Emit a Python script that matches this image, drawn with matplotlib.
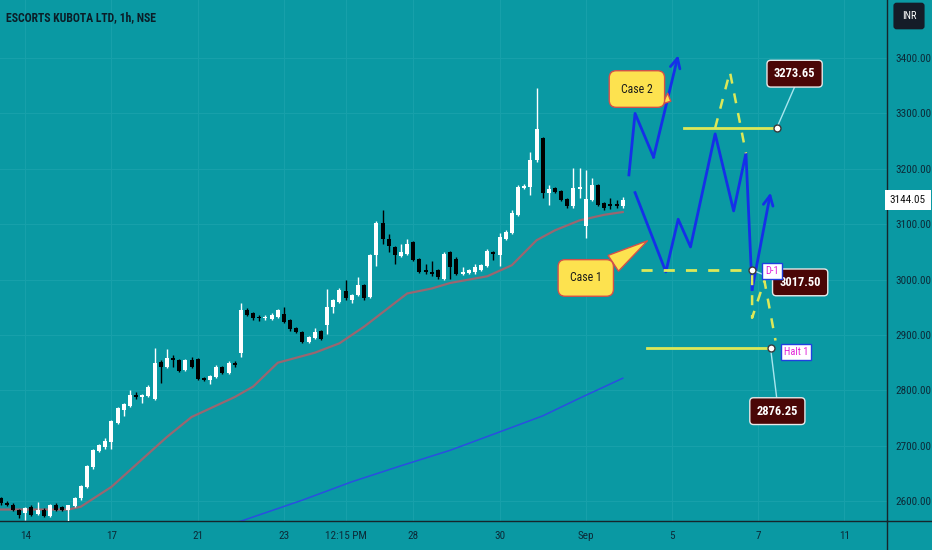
import numpy as np
import matplotlib.pyplot as plt
from matplotlib.lines import Line2D
from matplotlib.transforms import blended_transform_factory

# hourly bars, index 0 = 14 Aug 9:15
bar_idx = list(range(-4, 98))
opens = [2605, 2597, 2594, 2584, 2578, 2589, 2577, 2585, 2573, 2593, 2590, 2584,
         2591, 2605, 2626, 2661, 2691, 2697, 2706, 2742, 2765, 2772, 2791, 2789,
         2790, 2784, 2852, 2842, 2859, 2855, 2837, 2855, 2856, 2822, 2818, 2825,
         2842, 2831, 2849, 2868, 2945, 2939, 2933, 2930, 2929, 2932, 2938, 2927,
         2912, 2906, 2888, 2894, 2907, 2918, 2950, 2960, 2980, 2964, 2972, 2990,
         2969, 3044, 3103, 3074, 3058, 3043, 3047, 3068, 3037, 3017, 3014, 3017,
         3002, 3050, 3038, 3010, 3012, 3013, 3018, 3025, 3050, 3044, 3074, 3084,
         3117, 3165, 3167, 3215, 3255, 3157, 3165, 3160, 3145, 3132, 3163, 3097,
         3143, 3171, 3138, 3136, 3136, 3132]
highs = [2608, 2600, 2596, 2586, 2589, 2593, 2599, 2587, 2595, 2596, 2592, 2594,
         2607, 2629, 2666, 2694, 2703, 2715, 2747, 2770, 2777, 2801, 2798, 2794,
         2809, 2876, 2855, 2874, 2864, 2857, 2857, 2860, 2858, 2824, 2828, 2845,
         2844, 2853, 2853, 2958, 2948, 2941, 2936, 2936, 2939, 2947, 2951, 2929,
         2914, 2908, 2899, 2912, 2909, 2983, 2965, 2984, 2999, 2974, 3004, 2992,
         3046, 3105, 3126, 3083, 3060, 3065, 3074, 3070, 3039, 3028, 3034, 3019,
         3049, 3052, 3040, 3023, 3019, 3029, 3028, 3056, 3052, 3084, 3090, 3126,
         3170, 3173, 3231, 3345, 3257, 3171, 3167, 3162, 3147, 3201, 3201, 3198,
         3183, 3173, 3140, 3148, 3144, 3150]
lows = [2594, 2591, 2582, 2569, 2566, 2573, 2575, 2572, 2571, 2583, 2582, 2564,
        2589, 2603, 2624, 2659, 2688, 2695, 2694, 2740, 2754, 2770, 2784, 2778,
        2788, 2782, 2813, 2840, 2842, 2833, 2835, 2840, 2818, 2817, 2812, 2823,
        2829, 2829, 2843, 2861, 2934, 2928, 2925, 2928, 2927, 2930, 2922, 2908,
        2904, 2885, 2886, 2892, 2891, 2902, 2940, 2958, 2963, 2957, 2970, 2964,
        2967, 3025, 3065, 3050, 3029, 3041, 3045, 3033, 3012, 3011, 3007, 3002,
        3000, 3002, 3008, 3008, 3010, 3011, 3016, 3023, 3035, 3025, 3072, 3082,
        3115, 3163, 3153, 3213, 3147, 3135, 3156, 3141, 3130, 3130, 3147, 3075,
        3141, 3133, 3125, 3127, 3129, 3130]
closes = [2596, 2593, 2584, 2575, 2587, 2576, 2585, 2574, 2593, 2585, 2584, 2593,
          2605, 2627, 2664, 2692, 2701, 2708, 2745, 2768, 2775, 2791, 2788, 2792,
          2807, 2850, 2843, 2858, 2855, 2835, 2855, 2842, 2820, 2819, 2826, 2843,
          2831, 2849, 2845, 2945, 2936, 2930, 2930, 2933, 2937, 2945, 2924, 2910,
          2906, 2888, 2897, 2906, 2893, 2951, 2963, 2981, 2966, 2972, 2990, 2966,
          3044, 3103, 3074, 3061, 3044, 3050, 3064, 3035, 3014, 3013, 3011, 3004,
          3047, 3022, 3010, 3014, 3017, 3022, 3026, 3051, 3046, 3077, 3086, 3120,
          3168, 3169, 3216, 3271, 3156, 3163, 3159, 3143, 3133, 3165, 3168, 3145,
          3171, 3135, 3129, 3132, 3132, 3144.05]

# moving averages (bar index, value)
ma_fast_x = [-4, 7, 9, 14, 19, 23, 27, 34, 37, 41, 45, 47, 51, 55, 62, 66, 69, 75, 79, 83, 86, 90, 94, 97]
ma_fast_y = [2585, 2585, 2590, 2626, 2676, 2716, 2752, 2788, 2807, 2850, 2862, 2868, 2885, 2915,
             2975, 2984, 2994, 3006, 3026, 3071, 3089, 3107, 3117, 3122]
ma_slow_x = [30, 35, 45, 53, 61, 69, 77, 84, 90, 97]
ma_slow_y = [2548, 2564, 2602, 2635, 2664, 2692, 2725, 2754, 2786, 2822]

# drawn projections
case2_x = [98, 99, 102, 106]
case2_y = [3189, 3300, 3221, 3405]
case1_x = [99, 104, 106, 108, 112, 115, 117, 118, 121]
case1_y = [3157, 3014, 3109, 3059, 3263, 3124, 3228, 2982, 3157]
tri_up_x = [112, 114.4, 117]
tri_up_y = [3273.65, 3375, 3228]
tri_dn_x = [118, 118, 120, 121.8]
tri_dn_y = [3008, 2931, 2998, 2890]

level_top = 3273.65
level_mid = 3017.50
level_low = 2876.25
last_price = 3144.05

tick_pos = [0, 14, 28, 42, 52, 63, 77, 91, 105, 119, 133]
tick_lab = ['14', '17', '21', '23', '12:15 PM', '28', '30', 'Sep', '5', '7', '11']

bg = '#0a99a3'
txt = '#0c2a38'
plt.rcParams['font.family'] = ['Roboto Condensed', 'Open Sans Condensed', 'Liberation Sans Narrow',
                               'Liberation Sans', 'DejaVu Sans']

fig = plt.figure(figsize=(9.32, 5.5), dpi=100)
fig.patch.set_facecolor(bg)
ax = fig.add_axes([0, 29/550, 887/932, 521/550])
ax.set_facecolor(bg)
ax.set_xlim(-4.1, 139.9)
ax.set_ylim(2564.3, 3504.7)

for s in ['top', 'left']:
    ax.spines[s].set_visible(False)
for s in ['right', 'bottom']:
    ax.spines[s].set_color('#16252b')
    ax.spines[s].set_linewidth(1)
fig.add_artist(Line2D([887/932, 887/932], [0, 29/550], transform=fig.transFigure, color='#16252b', lw=1))
fig.add_artist(Line2D([887/932, 1], [29/550, 29/550], transform=fig.transFigure, color='#16252b', lw=1))

ax.yaxis.tick_right()
ax.set_yticks(range(2600, 3401, 100))
ax.set_yticklabels([f'{v:.2f}' for v in range(2600, 3401, 100)])
ax.set_xticks(tick_pos)
ax.set_xticklabels(tick_lab)
ax.tick_params(length=0, labelsize=8, labelcolor=txt)
ax.tick_params(axis='y', pad=6)
ax.tick_params(axis='x', pad=7)
ax.grid(color='#17a0aa', lw=0.8)
ax.set_axisbelow(True)

# candles
o = np.array(opens, float)
c = np.array(closes, float)
cols = ['#ffffff' if cc >= oo else '#000000' for oo, cc in zip(o, c)]
ax.vlines(bar_idx, lows, highs, colors=cols, lw=1, zorder=3)
body = np.maximum(np.abs(c - o), 1.5)
ax.bar(bar_idx, body, bottom=np.minimum(o, c), width=0.65, color=cols, zorder=4)

ax.plot(ma_fast_x, ma_fast_y, color='#9a6670', lw=1.6, zorder=2)
ax.plot(ma_slow_x, ma_slow_y, color='#2a4fe0', lw=1.1, zorder=2)

# projections
blue = '#1530e8'
arrow = dict(arrowstyle='->,head_length=0.7,head_width=0.35', color=blue, lw=2, shrinkA=0, shrinkB=0)
ax.plot(case2_x[:-1], case2_y[:-1], color=blue, lw=2, zorder=5)
ax.annotate('', xy=(case2_x[-1], case2_y[-1]), xytext=(case2_x[-2], case2_y[-2]),
            arrowprops=arrow, zorder=5)
ax.plot(case1_x[:-1], case1_y[:-1], color=blue, lw=2, zorder=5)
ax.annotate('', xy=(case1_x[-1], case1_y[-1]), xytext=(case1_x[-2], case1_y[-2]),
            arrowprops=arrow, zorder=5)

yel = '#dce858'
ax.plot([107, 122], [level_top, level_top], color=yel, lw=2, zorder=6)
ax.plot([101, 121], [level_low, level_low], color=yel, lw=2, zorder=6)
ax.plot([100, 118], [level_mid, level_mid], color=yel, lw=2, ls=(0, (4, 4)), zorder=6)
ax.plot(tri_up_x, tri_up_y, color=yel, lw=1.8, ls=(0, (4, 4)), zorder=6)
ax.plot(tri_dn_x, tri_dn_y, color=yel, lw=1.8, ls=(0, (4, 4)), zorder=6)

# price labels with connectors
conn = '#a8e6ee'
maroon = dict(boxstyle='round,pad=0.55,rounding_size=0.3', fc='#4a0606', ec='#e8e8e8', lw=1)
labels = [(level_top, 122, 124.9, 3371.7, 124.9, 3347.7),
          (level_mid, 118, 125.8, 2995, 122, 2999),
          (level_low, 121, 122.1, 2762.6, 122, 2786)]
for val, cx, lx, ly, ex, ey in labels:
    ax.plot([cx, ex], [val, ey], color=conn, lw=1, zorder=7)
    ax.plot(cx, val, 'o', ms=5, mfc='white', mec='#3a3a3a', mew=1, zorder=8)
    ax.text(lx, ly, f'{val:.2f}', ha='center', va='center', fontsize=9, color='white',
            weight='bold', bbox=maroon, zorder=9)

tag = dict(boxstyle='square,pad=0.3', fc='white', ec='#2040e0', lw=1)
ax.text(121.2, 3016, 'D-1', ha='center', va='center', fontsize=7.5, color='#e020d8', bbox=tag, zorder=10)
ax.text(125.1, 2870, 'Halt 1', ha='center', va='center', fontsize=7.5, color='#e020d8', bbox=tag, zorder=10)

# callouts
yfill = '#fde24f'
yedge = '#d4504a'
callout = dict(boxstyle='round,pad=1.0,rounding_size=0.6', fc=yfill, ec=yedge, lw=1)
ax.annotate('Case 2', xy=(104.8, 3322), xytext=(99.3, 3344), ha='center', va='center',
            fontsize=8.5, color='#1a1a1a', bbox=callout, zorder=9,
            arrowprops=dict(arrowstyle='wedge,tail_width=1.0', fc=yfill, ec=yedge,
                            lw=1, relpos=(0.85, 0.4), shrinkA=0, shrinkB=0))
ax.annotate('Case 1', xy=(101.0, 3070), xytext=(91.0, 3003), ha='center', va='center',
            fontsize=8.5, color='#1a1a1a', bbox=callout, zorder=9,
            arrowprops=dict(arrowstyle='wedge,tail_width=1.6', fc=yfill, ec=yedge,
                            lw=1, relpos=(0.85, 0.8), shrinkA=0, shrinkB=0))

# last price and currency tags
tr = blended_transform_factory(ax.transAxes, ax.transData)
ax.text(1.003, last_price, f'{last_price:.2f}', transform=tr, ha='left', va='center', fontsize=8,
        color='#111111', bbox=dict(boxstyle='square,pad=0.45', fc='white', ec='none'), clip_on=False)
fig.text(909/932, 1 - 16/550, 'INR', ha='center', va='center', fontsize=7.5, color='white',
         bbox=dict(boxstyle='round,pad=0.8,rounding_size=0.3', fc='#151c28', ec='none'))

fig.text(6/932, 1 - 18/550, 'ESCORTS KUBOTA LTD, 1h, NSE', ha='left', va='center',
         fontsize=8.5, color='#0b1e28', weight='bold')

fig.savefig('out.png', dpi=100, facecolor=bg)
